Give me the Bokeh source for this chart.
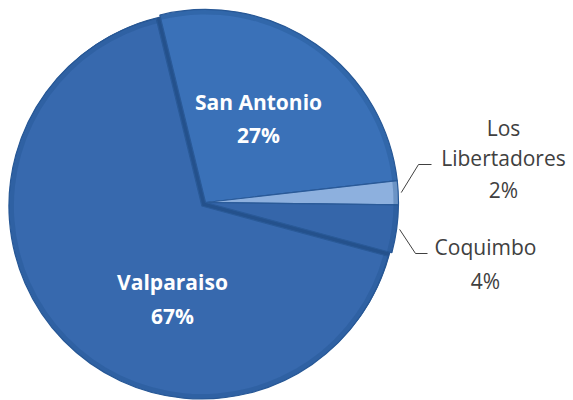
import math
from bokeh.plotting import figure
from bokeh.models import Range1d
from bokeh.core.properties import value
from bokeh.embed import file_html
from bokeh.resources import INLINE

# ---- data ----
categories = ["San Antonio", "Los Libertadores", "Coquimbo", "Valparaiso"]
percents = [27, 2, 4, 67]
pct_labels = ["27%", "2%", "4%", "67%"]

# ---- style / layout ----
W, H = 573, 400
fills = ["#3A71B8", "#8DB0DE", "#3566AA", "#3769AE"]
explode = [0, 0, 0, 5]          # px offset along bisector
start_deg = 103.7               # first slice starts here (ccw from +x), goes clockwise
cx, cy_screen = 205, 202
R = 193
FONT = "Open Sans"
DY = -8                         # text baseline correction

def sy(v):                      # screen y -> data y
    return H - v

p = figure(width=W, height=H, output_backend="svg", toolbar_location=None,
           x_range=Range1d(0, W), y_range=Range1d(0, H),
           min_border=0, outline_line_color=None)
p.axis.visible = False
p.grid.visible = False
p.background_fill_color = "white"
p.border_fill_color = "white"

total = sum(percents)
angles = []
a = math.radians(start_deg)
for v in percents:
    span = 2 * math.pi * v / total
    angles.append((a - span, a))
    a -= span

centers = []
for (s, e), ex in zip(angles, explode):
    mid = (s + e) / 2
    centers.append((cx + ex * math.cos(mid), sy(cy_screen) + ex * math.sin(mid)))

# dark underlay to fill the explosion gap
p.circle(x=cx - 2, y=sy(cy_screen + 2), radius=R, fill_color="#24518C",
         line_color=None)

for (s, e), (x0, y0), col in zip(angles, centers, fills):
    p.wedge(x=x0, y=y0, radius=R, start_angle=s, end_angle=e,
            fill_color=col, line_color="#2A5A98", line_width=1.2)
    p.annular_wedge(x=x0, y=y0, inner_radius=R - 5, outer_radius=R,
                    start_angle=s, end_angle=e, fill_color="#1F4E8C",
                    fill_alpha=0.3, line_color=None)

# inside labels (bold white)
in_lbl = {"San Antonio": (258, 109, 142), "Valparaiso": (172, 289, 323)}
for i, c in enumerate(categories):
    if c in in_lbl:
        x, y1, y2 = in_lbl[c]
        p.text(x=[x, x], y=[sy(y1 + DY), sy(y2 + DY)], text=[c, pct_labels[i]],
               text_font=value(FONT), text_font_style="bold",
               text_font_size="21px", text_color="white",
               text_align="center", text_baseline="alphabetic")

# outside labels: (centre x, baselines, words, (elbow x, elbow y, end x))
out_lbl = {"Los Libertadores": (503, [135, 165, 197], ["Los", "Libertadores"], (418, 164, 431)),
           "Coquimbo": (485, [254, 288], ["Coquimbo"], (415, 253, 427))}
for i, c in enumerate(categories):
    if c in out_lbl:
        x, ys, words, (ex_, ey_, hx) = out_lbl[c]
        lines = words + [pct_labels[i]]
        p.text(x=[x] * len(lines), y=[sy(v + DY) for v in ys], text=lines,
               text_font=value(FONT), text_font_size="21px",
               text_color="#404040", text_align="center",
               text_baseline="alphabetic")
        s, e = angles[i]
        mid = (s + e) / 2
        x0, y0 = centers[i]
        px0 = x0 + (R + 3) * math.cos(mid)
        py0 = y0 + (R + 3) * math.sin(mid)
        p.line(x=[px0, ex_, hx], y=[py0, sy(ey_), sy(ey_)],
               line_color="#404040", line_width=1)

open("out.html", "w").write(file_html(p, INLINE))
